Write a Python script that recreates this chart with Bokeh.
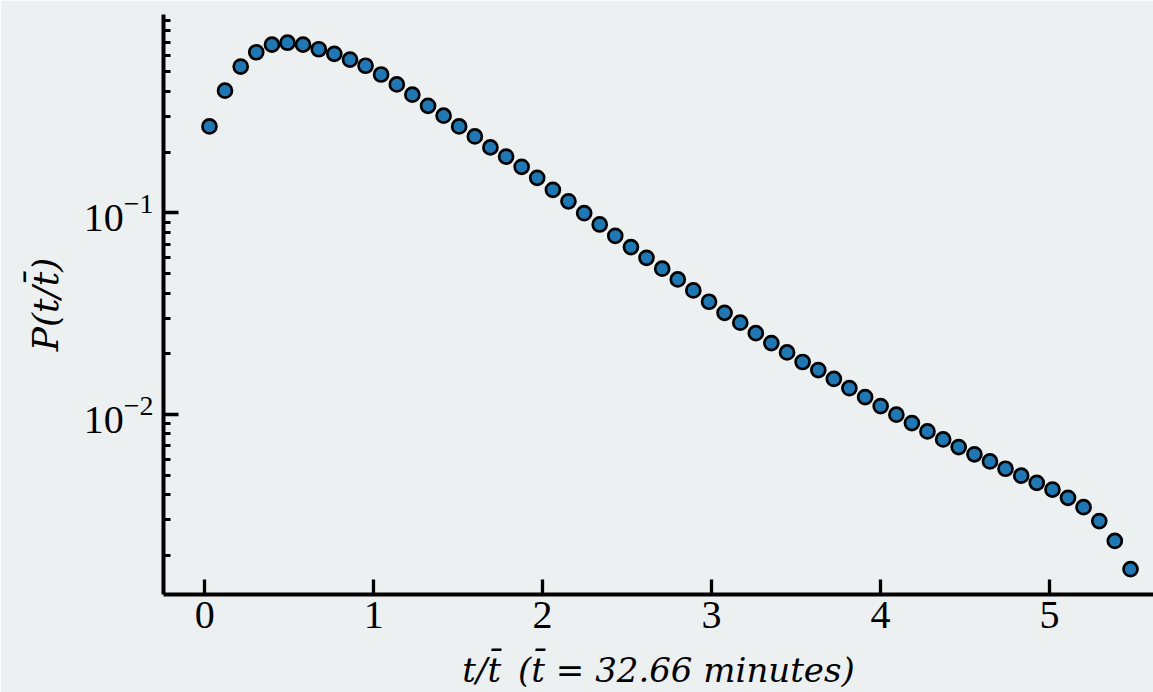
from bokeh.plotting import figure
from bokeh.models import Range1d, FixedTicker, LogTickFormatter
from bokeh.embed import file_html
from bokeh.resources import INLINE

# bin centres t / t_bar
t_ratio = [0.028, 0.120, 0.213, 0.305, 0.398, 0.490, 0.582, 0.675, 0.767, 0.860,
           0.952, 1.044, 1.137, 1.229, 1.322, 1.414, 1.506, 1.599, 1.691, 1.784,
           1.876, 1.968, 2.061, 2.153, 2.246, 2.338, 2.430, 2.523, 2.615, 2.708,
           2.800, 2.892, 2.985, 3.077, 3.170, 3.262, 3.354, 3.447, 3.539, 3.632,
           3.724, 3.816, 3.909, 4.001, 4.094, 4.186, 4.278, 4.371, 4.463, 4.556,
           4.648, 4.740, 4.833, 4.925, 5.018, 5.110, 5.202, 5.295, 5.387, 5.480]

# probability density P(t / t_bar)
prob = [0.268, 0.403, 0.531, 0.625, 0.682, 0.697, 0.682, 0.647, 0.614, 0.575,
        0.536, 0.485, 0.433, 0.385, 0.339, 0.303, 0.268, 0.239, 0.211, 0.190,
        0.169, 0.149, 0.130, 0.114, 0.0995, 0.0875, 0.0769, 0.0676, 0.0598, 0.0528,
        0.0467, 0.0412, 0.0362, 0.0319, 0.0285, 0.0253, 0.0226, 0.0203, 0.0182, 0.0166,
        0.0150, 0.0135, 0.0122, 0.0110, 0.00997, 0.00906, 0.00824, 0.00752, 0.00689, 0.00634,
        0.00585, 0.00538, 0.00497, 0.00458, 0.00424, 0.00386, 0.00347, 0.00296, 0.00236, 0.00171]

x_ticks = [0, 1, 2, 3, 4, 5]
y_ticks = [0.01, 0.1]
y_minor = [m * d for d in (0.001, 0.01, 0.1) for m in range(2, 10)]

BG = "#ecf0f1"
TICK_FONT = "Liberation Serif"
LABEL_FONT = "DejaVu Serif"

p = figure(width=1153, height=692, y_axis_type="log",
           x_range=Range1d(-0.244, 5.616), y_range=Range1d(0.00128, 0.962),
           output_backend="svg", toolbar_location=None,
           background_fill_color=BG, border_fill_color=BG,
           min_border_left=163, min_border_right=0, min_border_top=14, min_border_bottom=98)
p.outline_line_color = None
p.xgrid.visible = False
p.ygrid.visible = False

p.scatter(t_ratio, prob, size=14, fill_color="#1f77b4", line_color="black", line_width=2.7)

p.xaxis.ticker = FixedTicker(ticks=x_ticks)
p.yaxis.ticker = FixedTicker(ticks=y_ticks, minor_ticks=y_minor)
p.yaxis.formatter = LogTickFormatter()

for ax in (p.xaxis[0], p.yaxis[0]):
    ax.axis_line_width = 4
    ax.axis_line_color = "black"
    ax.major_tick_in = 15
    ax.major_tick_out = 0
    ax.major_tick_line_color = "black"
    ax.major_tick_line_width = 3.3
    ax.major_label_text_font = TICK_FONT
    ax.major_label_text_font_size = "40px"
    ax.major_label_text_color = "black"
    ax.axis_label_text_font = LABEL_FONT
    ax.axis_label_text_font_style = "italic"
    ax.axis_label_text_color = "black"

p.xaxis.minor_tick_line_color = None
p.xaxis.major_label_standoff = 7
p.xaxis.axis_label = "t/t\u0304\u2002(t\u0304 = 32.66 minutes)"
p.xaxis.axis_label_text_font_size = "34px"
p.xaxis.axis_label_standoff = 19

p.yaxis.minor_tick_in = 7
p.yaxis.minor_tick_out = 0
p.yaxis.minor_tick_line_width = 3
p.yaxis.minor_tick_line_color = "black"
p.yaxis.major_label_standoff = 10
p.yaxis.axis_label = "P(t/t\u0304)"
p.yaxis.axis_label_text_font_size = "36px"
p.yaxis.axis_label_standoff = 15

open("out.html", "w").write(file_html(p, INLINE))
